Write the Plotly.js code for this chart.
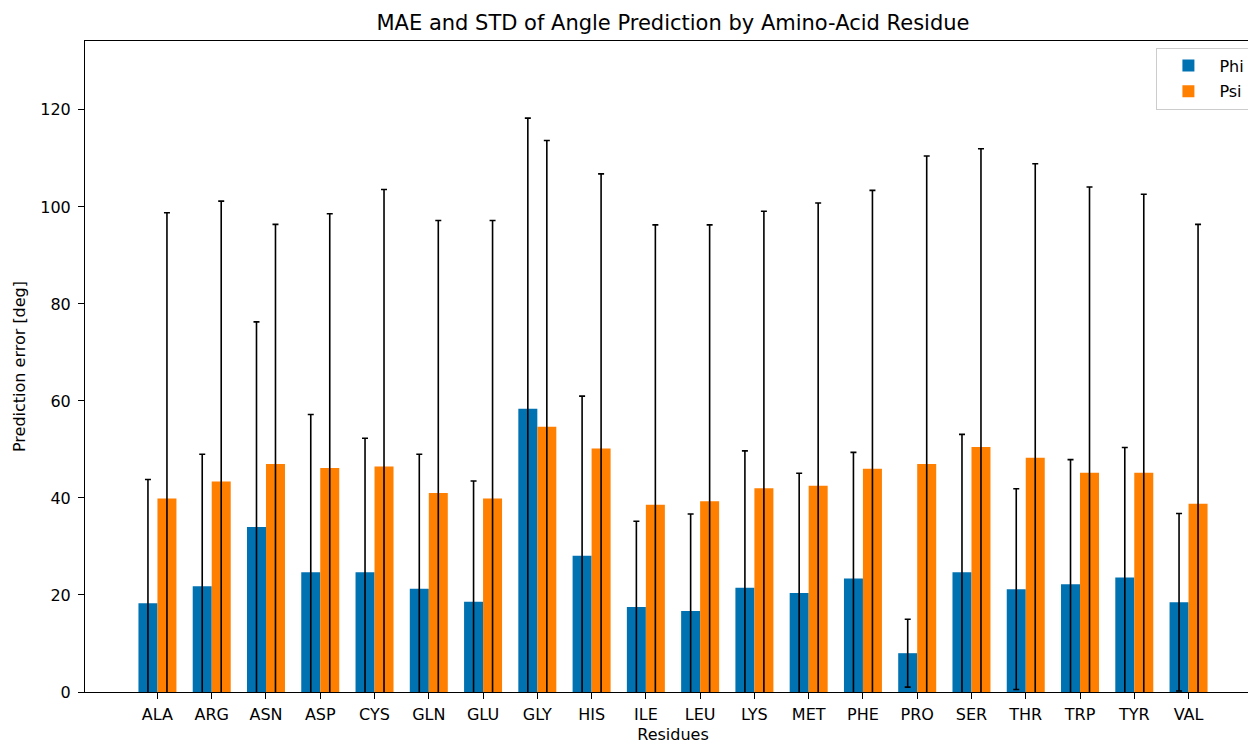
<!DOCTYPE html>
<html>
<head>
<meta charset="utf-8">
<script src="https://cdn.plot.ly/plotly-3.0.1.min.js"></script>
<style>
  html, body { margin: 0; padding: 0; overflow: hidden; background: #ffffff; }
  #chart { width: 1263px; height: 744px; }
</style>
</head>
<body>
<div id="chart"></div>
<script>
const residues = ["ALA","ARG","ASN","ASP","CYS","GLN","GLU","GLY","HIS","ILE","LEU","LYS","MET","PHE","PRO","SER","THR","TRP","TYR","VAL"];
const phiMAE = [18.3, 21.8, 34.0, 24.7, 24.7, 21.3, 18.6, 58.4, 28.1, 17.5, 16.7, 21.5, 20.4, 23.4, 8.0, 24.7, 21.2, 22.2, 23.6, 18.5];
const phiSTD = [25.5, 27.2, 42.3, 32.5, 27.6, 27.7, 24.9, 59.9, 32.9, 17.7, 20.0, 28.2, 24.7, 26.0, 7.0, 28.4, 20.7, 25.7, 26.8, 18.3];
const psiMAE = [39.9, 43.4, 47.0, 46.2, 46.5, 41.0, 39.9, 54.7, 50.2, 38.6, 39.3, 42.0, 42.5, 46.0, 47.0, 50.5, 48.3, 45.2, 45.2, 38.8];
const psiSTD = [58.9, 57.8, 49.4, 52.4, 57.1, 56.2, 57.3, 59.0, 56.6, 57.7, 57.0, 57.1, 58.3, 57.4, 63.5, 61.5, 60.6, 58.9, 57.4, 57.6];
const yTicks = [0, 20, 40, 60, 80, 100, 120];

const FONT = "DejaVu Sans, Liberation Sans, sans-serif";
const errStyle = { type: "data", symmetric: true, color: "#000000", thickness: 1.6, width: 3 };

const traces = [
  {
    type: "bar", name: "Phi", x: residues, y: phiMAE, legendgroup: "a",
    marker: { color: "#0072B2", line: { width: 0 } },
    error_y: Object.assign({ array: phiSTD }, errStyle)
  },
  {
    type: "bar", name: "Psi", x: residues, y: psiMAE, legendgroup: "b",
    marker: { color: "#FF7F00", line: { width: 0 } },
    error_y: Object.assign({ array: psiSTD }, errStyle)
  }
];

const layout = {
  width: 1263, height: 744,
  margin: { l: 85, r: 2, t: 41, b: 52 },
  paper_bgcolor: "#ffffff", plot_bgcolor: "#ffffff",
  font: { family: FONT, size: 16, color: "#000000" },
  barmode: "group", bargap: 0.3, bargroupgap: 0,
  showlegend: true,
  title: {
    text: "MAE and STD of Angle Prediction by Amino-Acid Residue",
    font: { family: FONT, size: 21, color: "#000000" },
    xref: "paper", x: 0.5, xanchor: "center",
    yref: "container", y: 0.970, yanchor: "middle"
  },
  xaxis: {
    type: "category",
    range: [-1.335, 20.335],
    showline: true, mirror: true, linecolor: "#000000", linewidth: 1,
    showgrid: false, zeroline: false,
    ticks: "outside", ticklen: 6, tickwidth: 1, tickcolor: "#000000",
    ticklabelstandoff: 2,
    tickfont: { family: FONT, size: 16, color: "#000000" },
    title: { text: "Residues", font: { family: FONT, size: 16, color: "#000000" }, standoff: 11 }
  },
  yaxis: {
    range: [0, 134.2],
    tickvals: yTicks, ticktext: yTicks.map(String),
    showline: true, mirror: true, linecolor: "#000000", linewidth: 1,
    showgrid: false, zeroline: false,
    ticks: "outside", ticklen: 6, tickwidth: 1, tickcolor: "#000000",
    ticklabelstandoff: 4,
    tickfont: { family: FONT, size: 16, color: "#000000" },
    title: { text: "Prediction error [deg]", font: { family: FONT, size: 16, color: "#000000" }, standoff: 10 }
  },
  legend: {
    x: 0.991, xanchor: "right", y: 0.99, yanchor: "top",
    bgcolor: "rgba(255,255,255,0.8)", bordercolor: "#cccccc", borderwidth: 1,
    font: { family: FONT, size: 16, color: "#000000" },
    traceorder: "grouped", tracegroupgap: 2,
    itemwidth: 52
  }
};

Plotly.newPlot("chart", traces, layout, { displayModeBar: false, staticPlot: true });
</script>
</body>
</html>
